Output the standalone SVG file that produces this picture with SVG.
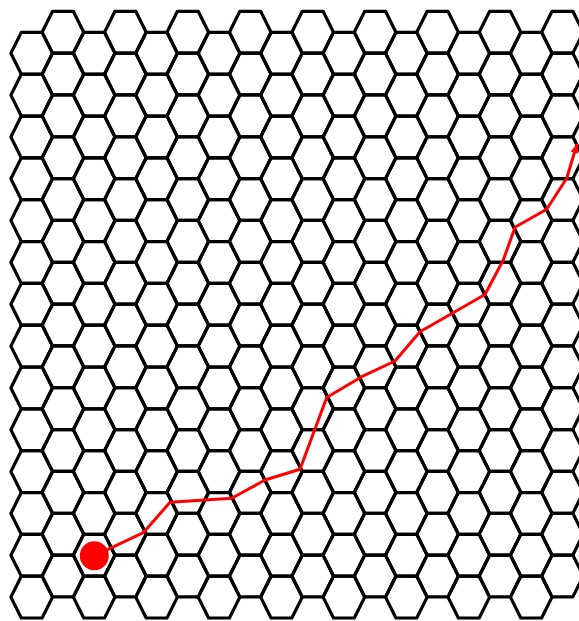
<svg xmlns="http://www.w3.org/2000/svg" xmlns:xlink="http://www.w3.org/1999/xlink" width="579" height="621" viewBox="0 0 579 621">
  <style>
    .hex { fill: none; stroke: #000; stroke-width: 3.2; stroke-linejoin: round; }
    .route { fill: none; stroke: #ff0000; stroke-width: 3; stroke-linejoin: round; stroke-linecap: round; }
  </style>
  <defs>
    <polygon id="h" class="hex" points="-20.81,0 -10.4,-20.9 10.4,-20.9 20.81,0 10.4,20.9 -10.4,20.9"/>
    <g id="col">
      <use href="#h" xlink:href="#h" y="0"/>
      <use href="#h" xlink:href="#h" y="41.83"/>
      <use href="#h" xlink:href="#h" y="83.66"/>
      <use href="#h" xlink:href="#h" y="125.49"/>
      <use href="#h" xlink:href="#h" y="167.32"/>
      <use href="#h" xlink:href="#h" y="209.15"/>
      <use href="#h" xlink:href="#h" y="250.98"/>
      <use href="#h" xlink:href="#h" y="292.81"/>
      <use href="#h" xlink:href="#h" y="334.64"/>
      <use href="#h" xlink:href="#h" y="376.47"/>
      <use href="#h" xlink:href="#h" y="418.3"/>
      <use href="#h" xlink:href="#h" y="460.13"/>
      <use href="#h" xlink:href="#h" y="501.96"/>
      <use href="#h" xlink:href="#h" y="543.79"/>
    </g>
    <marker id="arrow" markerUnits="userSpaceOnUse" markerWidth="9" markerHeight="8" viewBox="0 0 9 8" refX="8" refY="4" orient="auto">
      <path d="M0,0 L9,4 L0,8 z" fill="#ff0000"/>
    </marker>
  </defs>
  <rect width="579" height="621" fill="#fff"/>
  <g id="grid">
    <use href="#col" xlink:href="#col" x="31.7" y="53.3"/>
    <use href="#col" xlink:href="#col" x="62.92" y="32.2"/>
    <use href="#col" xlink:href="#col" x="94.14" y="53.3"/>
    <use href="#col" xlink:href="#col" x="125.36" y="32.2"/>
    <use href="#col" xlink:href="#col" x="156.58" y="53.3"/>
    <use href="#col" xlink:href="#col" x="187.8" y="32.2"/>
    <use href="#col" xlink:href="#col" x="219.02" y="53.3"/>
    <use href="#col" xlink:href="#col" x="250.24" y="32.2"/>
    <use href="#col" xlink:href="#col" x="281.46" y="53.3"/>
    <use href="#col" xlink:href="#col" x="312.68" y="32.2"/>
    <use href="#col" xlink:href="#col" x="343.9" y="53.3"/>
    <use href="#col" xlink:href="#col" x="375.12" y="32.2"/>
    <use href="#col" xlink:href="#col" x="406.34" y="53.3"/>
    <use href="#col" xlink:href="#col" x="437.56" y="32.2"/>
    <use href="#col" xlink:href="#col" x="468.78" y="53.3"/>
    <use href="#col" xlink:href="#col" x="500" y="32.2"/>
    <use href="#col" xlink:href="#col" x="531.22" y="53.3"/>
    <use href="#col" xlink:href="#col" x="562.44" y="32.2"/>
  </g>
  <g id="path">
    <path class="route" marker-end="url(#arrow)" d="M94.3,555.8 L143.3,532.7 L170,502.3 L231.7,498.3 L265,480 L300,469.3 L326.7,397.5 L361.7,376.7 L395,361 L420,331.7 L485,294.5 L503.3,260 L515,227.3 L546.7,209.3 L566.7,178.3 L576.7,145"/>
    <circle id="start" cx="94.3" cy="555.8" r="14.5" fill="#ff0000"/>
  </g>
</svg>
